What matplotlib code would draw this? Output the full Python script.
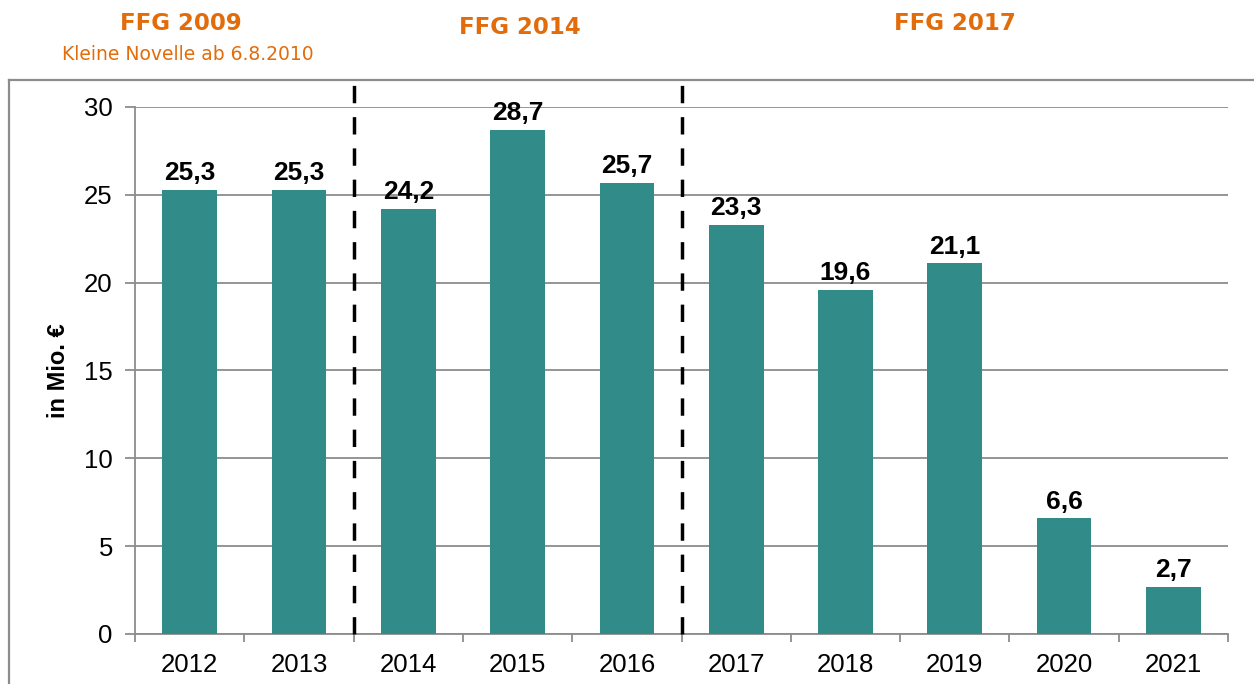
import matplotlib.pyplot as plt
from matplotlib.lines import Line2D

years = ["2012", "2013", "2014", "2015", "2016", "2017", "2018", "2019", "2020", "2021"]
values = [25.3, 25.3, 24.2, 28.7, 25.7, 23.3, 19.6, 21.1, 6.6, 2.7]
value_labels = ["25,3", "25,3", "24,2", "28,7", "25,7", "23,3", "19,6", "21,1", "6,6", "2,7"]
y_ticks = [0, 5, 10, 15, 20, 25, 30]
period_breaks = [1.5, 4.5]

bar_color = "#318B88"
orange = "#E36C0A"
grid_gray = "#8C8C8C"

plt.rcParams['font.family'] = ['Liberation Sans', 'DejaVu Sans']

fig = plt.figure(figsize=(12.54, 6.84), dpi=100)
ax = fig.add_axes([0.1077, 0.0731, 0.9793 - 0.1077, 0.8436 - 0.0731])

x = list(range(len(years)))
ax.bar(x, values, width=0.5, color=bar_color, zorder=3)
for xi, v, lab in zip(x, values, value_labels):
    ax.text(xi, v + 0.25, lab, ha="center", va="bottom", fontsize=19,
            fontweight="bold", zorder=4)

ax.set_xlim(-0.5, len(years) - 0.5)
ax.set_ylim(0, 30)
ax.set_yticks(y_ticks)
ax.yaxis.grid(True, color=grid_gray, linewidth=1.3, zorder=0)
ax.set_axisbelow(True)

ax.set_xticks(x)
ax.set_xticklabels(years)
ax.set_xticks([i - 0.5 for i in range(len(years) + 1)], minor=True)
ax.tick_params(axis="x", which="major", length=0, pad=14, labelsize=18.5)
ax.tick_params(axis="x", which="minor", length=6, width=1.3, color=grid_gray)
ax.tick_params(axis="y", length=7, width=1.3, color=grid_gray, pad=9, labelsize=18.5)

for s in ["top", "right"]:
    ax.spines[s].set_visible(False)
for s in ["left", "bottom"]:
    ax.spines[s].set_color(grid_gray)
    ax.spines[s].set_linewidth(1.3)

ax.set_ylabel("in Mio. €", fontsize=17, fontweight="bold", labelpad=10)

# period separators
for b in period_breaks:
    ax.axvline(b, ymin=0, ymax=1.045, color="black", linewidth=2.5,
               linestyle=(0, (5, 4)), clip_on=False, zorder=5)

# outer frame (left and top edges visible)
fig.add_artist(Line2D([0.0075, 0.0075], [0, 0.883], color=grid_gray, linewidth=1.6,
                      transform=fig.transFigure))
fig.add_artist(Line2D([0.0075, 1.0], [0.883, 0.883], color=grid_gray, linewidth=1.6,
                      transform=fig.transFigure))

# period headings
fig.text(181 / 1254, 1 - 24 / 684, "FFG 2009", ha="center", va="center", color=orange,
         fontsize=16.5, fontweight="bold", family="DejaVu Sans")
fig.text(188 / 1254, 1 - 55 / 684, "Kleine Novelle ab 6.8.2010", ha="center", va="center",
         color=orange, fontsize=13.5, family="DejaVu Sans")
fig.text(520 / 1254, 1 - 28 / 684, "FFG 2014", ha="center", va="center", color=orange,
         fontsize=16.5, fontweight="bold", family="DejaVu Sans")
fig.text(955 / 1254, 1 - 24 / 684, "FFG 2017", ha="center", va="center", color=orange,
         fontsize=16.5, fontweight="bold", family="DejaVu Sans")

fig.savefig("out.png", dpi=100)
